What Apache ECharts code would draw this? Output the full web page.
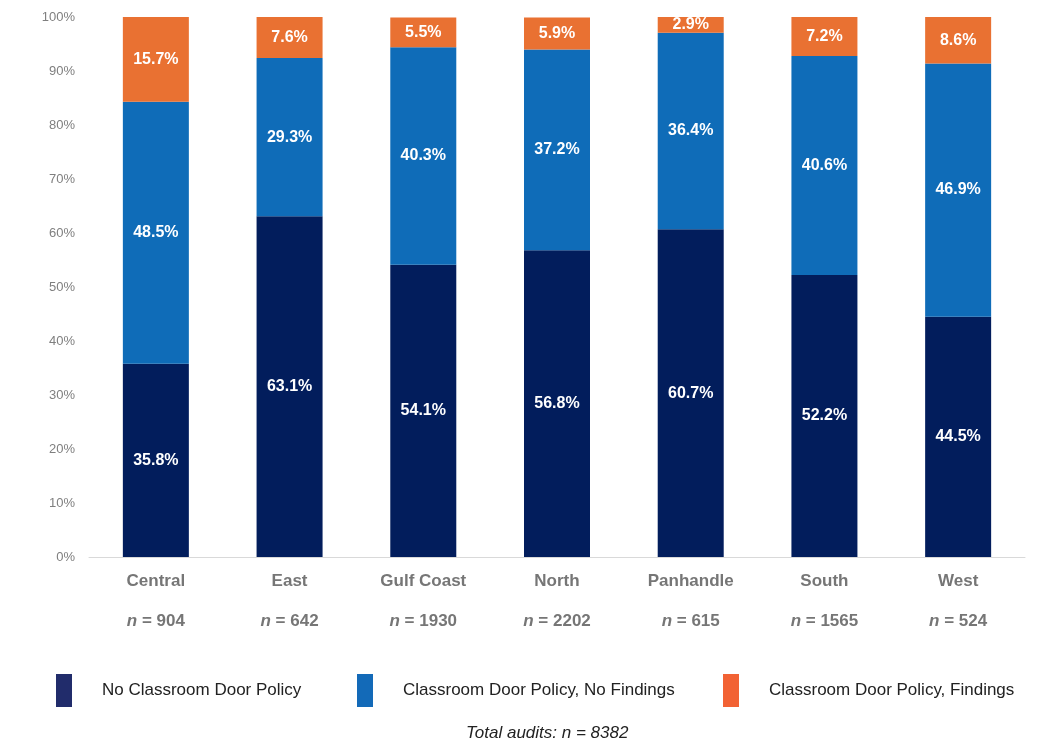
<!DOCTYPE html>
<html><head><meta charset="utf-8">
<script src="https://cdn.jsdelivr.net/npm/echarts@6/dist/echarts.min.js"></script>
<style>html,body{margin:0;padding:0;background:#fff}#c{width:1052px;height:744px}</style>
</head><body><div id="c"></div>
<script>
const categories = ['Central','East','Gulf Coast','North','Panhandle','South','West'];
const nValues = [904, 642, 1930, 2202, 615, 1565, 524];
const noPolicy = [35.8, 63.1, 54.1, 56.8, 60.7, 52.2, 44.5];
const policyNoFindings = [48.5, 29.3, 40.3, 37.2, 36.4, 40.6, 46.9];
const policyFindings = [15.7, 7.6, 5.5, 5.9, 2.9, 7.2, 8.6];
const seriesNames = ['No Classroom Door Policy','Classroom Door Policy, No Findings','Classroom Door Policy, Findings'];
const totalAudits = 8382;

const barColors = ['#021d5c','#0f6cb8','#e97132'];
const legendColors = ['#212c6b','#136ab8','#f26234'];
const ff = '"Liberation Sans", Arial, sans-serif';

const chart = echarts.init(document.getElementById('c'), null, {renderer:'canvas'});
function mk(name, data, i) {
  return {
    name, type:'bar', stack:'s', data, barWidth: 66,
    itemStyle:{color: barColors[i]},
    label:{show:true, position:'inside', color:'#fff', fontFamily:ff, fontWeight:'bold', fontSize:16,
      formatter: p => p.value.toFixed(1) + '%'}
  };
}
const legendLefts = [56, 357, 723];
chart.setOption({
  animation:false,
  grid:{left:89, right:27, top:17, bottom:187},
  xAxis:{type:'category', data:categories,
    axisLine:{lineStyle:{color:'#d9d9d9', width:1}}, axisTick:{show:false},
    axisLabel:{margin:4, interval:0,
      formatter:(v, idx) => '{c|' + v + '}\n{i|n}{b| = ' + nValues[idx] + '}',
      rich:{
        c:{fontFamily:ff, fontWeight:'bold', fontSize:17, color:'#767676', lineHeight:40},
        i:{fontFamily:ff, fontWeight:'bold', fontStyle:'italic', fontSize:17, color:'#767676', lineHeight:40},
        b:{fontFamily:ff, fontWeight:'bold', fontSize:17, color:'#767676', lineHeight:40}
      }}},
  yAxis:{type:'value', min:0, max:100, interval:10,
    axisLabel:{formatter:'{value}%', color:'#7f7f7f', fontFamily:ff, fontSize:13, margin:14},
    splitLine:{show:false}, axisLine:{show:false}, axisTick:{show:false}},
  legend: seriesNames.map((n, i) => ({
    data:[{name:n, itemStyle:{color:legendColors[i]}}], left: legendLefts[i], top: 674, padding:0,
    icon:'rect', itemWidth:16, itemHeight:33, itemGap:0,
    textStyle:{fontFamily:ff, fontSize:17, color:'#222', padding:[0,0,0,25]},
    selectedMode:false
  })),
  graphic:[{type:'text', left:466, top:725,
    style:{text:'Total audits: n = ' + totalAudits, fontFamily:ff, fontStyle:'italic', fontSize:17, fill:'#222'}}],
  series:[mk(seriesNames[0], noPolicy, 0), mk(seriesNames[1], policyNoFindings, 1), mk(seriesNames[2], policyFindings, 2)]
});
</script></body></html>
